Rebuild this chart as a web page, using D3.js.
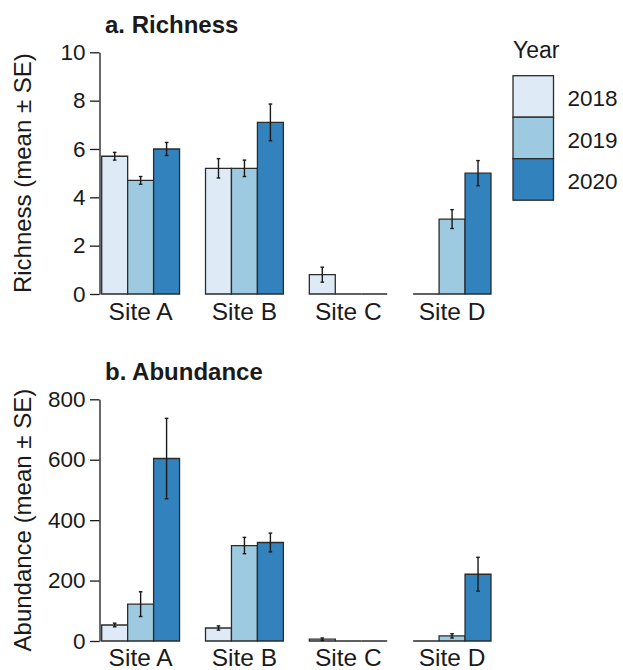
<!DOCTYPE html>
<html>
<head>
<meta charset="utf-8">
<script src="https://cdn.jsdelivr.net/npm/d3@7"></script>
<style>
  html, body { margin: 0; padding: 0; background: #fff; }
  svg { display: block; font-family: "Liberation Sans", Arial, Helvetica, sans-serif; }
</style>
</head>
<body>
<svg id="chart" width="623" height="670"></svg>
<script>
// Sites and survey years
const sites = ["Site A", "Site B", "Site C", "Site D"];
const years = ["2018", "2019", "2020"];
const yearColors = ["#deebf7", "#9ecae1", "#3182bd"];

// Richness: mean and SE, one array per year (order follows sites)
const richness2018 = [5.7, 5.2, 0.8, 0];
const richness2019 = [4.7, 5.2, 0, 3.1];
const richness2020 = [6.0, 7.1, 0, 5.0];
const richnessSE2018 = [0.16, 0.40, 0.31, 0];
const richnessSE2019 = [0.16, 0.34, 0, 0.39];
const richnessSE2020 = [0.27, 0.76, 0, 0.52];
const richnessTicks = [0, 2, 4, 6, 8, 10];

// Abundance: mean and SE, one array per year
const abundance2018 = [53, 43, 6, 0];
const abundance2019 = [122, 316, 0, 17];
const abundance2020 = [604, 326, 0, 221];
const abundanceSE2018 = [6, 7, 4, 0];
const abundanceSE2019 = [41, 27, 0, 7];
const abundanceSE2020 = [133, 31, 0, 56];
const abundanceTicks = [0, 200, 400, 600, 800];

const svg = d3.select("#chart");
const textColor = "#1a1a1a";
const fontFamily = '"Liberation Sans", Arial, Helvetica, sans-serif';

const x = d3.scaleBand().domain(sites).range([101.7, 491]).paddingInner(0.25).paddingOuter(0);
const xYear = d3.scaleBand().domain(years).range([0, x.bandwidth()]).padding(0);
const color = d3.scaleOrdinal().domain(years).range(yearColors);

function buildRows(means, ses) {
  const rows = [];
  sites.forEach((s, i) => {
    years.forEach((yr, j) => {
      rows.push({ site: s, year: yr, mean: means[j][i], se: ses[j][i] });
    });
  });
  return rows;
}

function panel(opts) {
  const g = svg.append("g");
  const y = d3.scaleLinear().domain(opts.domain).range([opts.bottom, opts.top]);
  const rows = buildRows(opts.means, opts.ses);

  // Bars drawn as closed paths so zero-height bars still show as a line
  g.selectAll("path.bar").data(rows).join("path")
    .attr("class", "bar")
    .attr("d", d => {
      const x0 = x(d.site) + xYear(d.year);
      const w = xYear.bandwidth();
      return `M${x0},${y(0)}H${x0 + w}V${y(d.mean)}H${x0}Z`;
    })
    .attr("fill", d => color(d.year))
    .attr("stroke", "#2b2b2b")
    .attr("stroke-width", 1.3);

  // Error bars (mean ± SE)
  const err = g.selectAll("g.err").data(rows.filter(d => d.se > 0)).join("g").attr("class", "err");
  const cx = d => x(d.site) + xYear(d.year) + xYear.bandwidth() / 2;
  err.append("line")
    .attr("x1", cx).attr("x2", cx)
    .attr("y1", d => y(d.mean - d.se)).attr("y2", d => y(d.mean + d.se))
    .attr("stroke", "#1a1a1a").attr("stroke-width", 1.4);
  [-1, 1].forEach(s => {
    err.append("line")
      .attr("x1", d => cx(d) - 1.8).attr("x2", d => cx(d) + 1.8)
      .attr("y1", d => y(d.mean + s * d.se)).attr("y2", d => y(d.mean + s * d.se))
      .attr("stroke", "#1a1a1a").attr("stroke-width", 1.4);
  });

  // Y axis
  const yAxis = g.append("g").attr("transform", "translate(99.5,0)")
    .call(d3.axisLeft(y).tickValues(opts.ticks).tickSize(9.5).tickPadding(4.5).tickSizeOuter(0))
    .attr("font-family", fontFamily);
  yAxis.select(".domain").attr("stroke", "#1a1a1a").attr("stroke-width", 1.3);
  yAxis.selectAll(".tick line").attr("stroke", "#1a1a1a").attr("stroke-width", 1.3);
  yAxis.selectAll(".tick text").attr("fill", textColor).style("font-size", "22.5px");

  // X labels (no axis line)
  g.selectAll("text.xlab").data(sites).join("text")
    .attr("class", "xlab")
    .attr("x", d => x(d) + x.bandwidth() / 2)
    .attr("y", opts.xLabelY)
    .attr("text-anchor", "middle")
    .attr("fill", textColor)
    .style("font-size", "24.5px")
    .text(d => d);

  // Y title
  g.append("text")
    .attr("transform", `translate(31,${(opts.top + opts.bottom) / 2}) rotate(-90)`)
    .attr("text-anchor", "middle")
    .attr("fill", textColor)
    .style("font-size", "24px")
    .text(opts.yTitle);

  // Panel title
  g.append("text")
    .attr("x", 105).attr("y", opts.titleY)
    .attr("fill", textColor)
    .style("font-size", "24px").style("font-weight", "bold")
    .text(opts.title);
}

panel({
  title: "a. Richness", titleY: 33,
  yTitle: "Richness (mean \u00b1 SE)",
  domain: [0, 10], ticks: richnessTicks,
  top: 52.3, bottom: 294, xLabelY: 320,
  means: [richness2018, richness2019, richness2020],
  ses: [richnessSE2018, richnessSE2019, richnessSE2020]
});

panel({
  title: "b. Abundance", titleY: 380,
  yTitle: "Abundance (mean \u00b1 SE)",
  domain: [0, 800], ticks: abundanceTicks,
  top: 399.3, bottom: 641, xLabelY: 666,
  means: [abundance2018, abundance2019, abundance2020],
  ses: [abundanceSE2018, abundanceSE2019, abundanceSE2020]
});

// Legend
const legend = svg.append("g").attr("transform", "translate(513,0)");
legend.append("text").attr("x", 0).attr("y", 58)
  .attr("fill", textColor).style("font-size", "23px").text("Year");
const keyH = 41.5, keyW = 40.5, key0 = 75.7;
const keys = legend.selectAll("g.key").data(years).join("g").attr("class", "key");
keys.append("rect")
  .attr("x", 0).attr("y", (d, i) => key0 + i * keyH)
  .attr("width", keyW).attr("height", keyH)
  .attr("fill", d => color(d))
  .attr("stroke", "#2b2b2b").attr("stroke-width", 1.3);
keys.append("text")
  .attr("x", keyW + 14).attr("y", (d, i) => key0 + i * keyH + keyH / 2 + 10)
  .attr("fill", textColor).style("font-size", "22.5px")
  .text(d => d);
</script>
</body>
</html>
